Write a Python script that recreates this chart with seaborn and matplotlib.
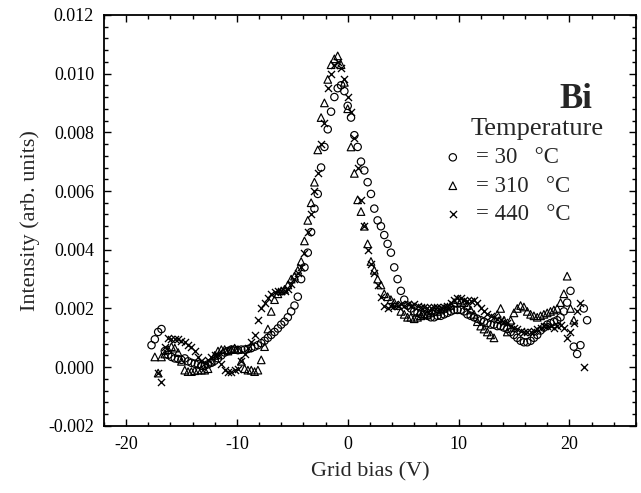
import numpy as np
import pandas as pd
import matplotlib
matplotlib.use("Agg")
import matplotlib.pyplot as plt
from matplotlib.ticker import AutoMinorLocator, MultipleLocator
import seaborn as sns

# ---------------- data (intensity in units of 1e-3 arb. units) ----------------
grid_bias = [
    -17.7, -17.4, -17.1, -16.8, -16.5, -16.2, -15.9, -15.6, -15.3, -15.0,
    -14.7, -14.4, -14.1, -13.8, -13.5, -13.2, -12.9, -12.6, -12.3, -12.0,
    -11.7, -11.4, -11.1, -10.8, -10.5, -10.2, -9.9, -9.6, -9.3, -9.0,
    -8.7, -8.4, -8.1, -7.8, -7.5, -7.2, -6.9, -6.6, -6.3, -6.0,
    -5.7, -5.4, -5.1, -4.8, -4.5, -4.2, -3.9, -3.6, -3.3, -3.0,
    -2.7, -2.4, -2.1, -1.8, -1.5, -1.2, -0.9, -0.6, -0.3, 0.0,
    0.3, 0.6, 0.9, 1.2, 1.5, 1.8, 2.1, 2.4, 2.7, 3.0,
    3.3, 3.6, 3.9, 4.2, 4.5, 4.8, 5.1, 5.4, 5.7, 6.0,
    6.3, 6.6, 6.9, 7.2, 7.5, 7.8, 8.1, 8.4, 8.7, 9.0,
    9.3, 9.6, 9.9, 10.2, 10.5, 10.8, 11.1, 11.4, 11.7, 12.0,
    12.3, 12.6, 12.9, 13.2, 13.5, 13.8, 14.1, 14.4, 14.7, 15.0,
    15.3, 15.6, 15.9, 16.2, 16.5, 16.8, 17.1, 17.4, 17.7, 18.0,
    18.3, 18.6, 18.9, 19.2, 19.5, 19.8, 20.1, 20.4, 20.7, 21.0,
    21.3, 21.6,
]

intensity_30C = [
    0.75, 0.95, 1.2, 1.3, 0.55, 0.42, 0.35, 0.3, 0.28, 0.25,
    0.3, 0.2, 0.15, 0.12, 0.1, 0.05, 0.05, 0.1, 0.15, 0.22,
    0.3, 0.4, 0.5, 0.55, 0.6, 0.6, 0.58, 0.6, 0.6, 0.62,
    0.65, 0.7, 0.75, 0.82, 0.9, 1.0, 1.1, 1.2, 1.32, 1.45,
    1.55, 1.7, 1.9, 2.1, 2.4, 3.0, 3.4, 3.9, 4.6, 5.4,
    5.9, 6.8, 7.5, 8.1, 8.7, 9.2, 9.5, 9.6, 9.4, 8.9,
    8.5, 7.9, 7.5, 7.0, 6.7, 6.3, 5.9, 5.4, 5.0, 4.8,
    4.5, 4.2, 3.9, 3.4, 3.0, 2.6, 2.3, 2.1, 2.0, 1.9,
    1.85, 1.8, 1.8, 1.75, 1.7, 1.7, 1.75, 1.75, 1.8, 1.85,
    1.9, 1.95, 1.95, 1.95, 1.9, 1.8, 1.75, 1.7, 1.65, 1.6,
    1.55, 1.5, 1.45, 1.45, 1.4, 1.4, 1.35, 1.3, 1.2, 1.1,
    1.0, 0.9, 0.85, 0.85, 0.9, 1.0, 1.1, 1.25, 1.35, 1.45,
    1.5, 1.55, 1.6, 1.7, 1.9, 2.2, 2.6, 0.7, 0.45, 0.75,
    2.0, 1.6,
]

intensity_310C = [
    None, 0.35, -0.2, 0.35, 0.45, 0.6, 0.7, 0.65, 0.5, 0.2,
    -0.1, -0.15, -0.15, -0.12, -0.1, -0.1, -0.1, -0.05, 0.2, 0.4,
    0.55, 0.6, 0.6, 0.55, 0.6, 0.65, 0.6, 0.2, -0.05, -0.1,
    -0.1, -0.15, -0.1, 0.25, 0.7, 1.3, 1.9, 2.3, 2.5, 2.6,
    2.65, 2.8, 3.0, 3.1, 3.3, 3.6, 4.3, 5.0, 5.6, 6.3,
    7.4, 8.5, 9.0, 9.8, 10.3, 10.5, 10.6, 10.3, 9.7, 8.8,
    7.5, 6.6, 5.7, 5.3, 4.8, 4.2, 3.6, 3.3, 3.0, 2.8,
    2.5, 2.4, 2.3, 2.2, 2.1, 1.9, 1.8, 1.7, 1.7, 1.65,
    1.7, 1.75, 1.8, 1.8, 1.85, 1.9, 1.9, 1.95, 2.0, 2.05,
    2.1, 2.2, 2.3, 2.25, 2.2, 2.1, 1.95, 1.8, 1.55, 1.4,
    1.3, 1.2, 1.1, 1.0, 1.8, 2.0, 1.6, 1.2, 1.6, 1.85,
    2.0, 2.1, 2.05, 1.9, 1.8, 1.75, 1.7, 1.75, 1.8, 1.85,
    1.9, 1.95, 2.0, 2.2, 2.5, 3.1, 2.0, 1.6, None, None,
    None, None,
]

intensity_440C = [
    None, None, -0.2, -0.5, 0.7, 1.0, 0.95, 0.95, 0.95, 0.9,
    0.85, 0.75, 0.7, 0.55, 0.35, 0.2, 0.15, 0.25, 0.35, 0.4,
    0.4, 0.1, -0.1, -0.15, -0.15, -0.1, -0.05, 0.2, 0.45, 0.65,
    0.85, 1.1, 1.6, 2.0, 2.2, 2.35, 2.5, 2.55, 2.6, 2.6,
    2.6, 2.65, 2.85, 3.0, 3.2, 3.4, 3.9, 4.6, 5.2, 6.0,
    6.6, 7.6, 8.3, 9.5, 10.0, 10.3, 10.4, 10.2, 9.8, 9.2,
    8.7, 7.8, 6.8, 5.7, 4.8, 4.0, 3.5, 3.2, 2.8, 2.4,
    2.1, 2.0, 2.1, 2.1, 2.1, 2.15, 2.1, 2.15, 2.1, 2.15,
    2.1, 2.05, 2.05, 2.0, 2.0, 2.05, 2.05, 2.0, 2.05, 2.1,
    2.2, 2.3, 2.35, 2.35, 2.3, 2.25, 2.25, 2.3, 2.2, 2.0,
    1.9, 1.8, 1.75, 1.7, 1.65, 1.6, 1.55, 1.5, 1.4, 1.35,
    1.3, 1.25, 1.2, 1.2, 1.2, 1.25, 1.3, 1.35, 1.4, 1.4,
    1.4, 1.35, 1.4, 1.45, 1.35, 1.0, 1.2, 1.5, 1.9, 2.2,
    0.0, None,
]

temperature_labels = ["= 30   \u00b0C", "= 310   \u00b0C", "= 440   \u00b0C"]
x_ticks = [-20, -10, 0, 10, 20]
y_ticks = [-0.002, 0.000, 0.002, 0.004, 0.006, 0.008, 0.010, 0.012]

# ---------------- figure ----------------
sns.set_style("ticks")
plt.rcParams["font.family"] = ["Liberation Serif", "DejaVu Serif"]
plt.rcParams["axes.unicode_minus"] = False

fig = plt.figure(figsize=(6.41, 4.93), dpi=100)
ax = fig.add_axes([0.162, 0.136, 0.830, 0.834])

def frame(values):
    df = pd.DataFrame({"bias": grid_bias,
                       "intensity": np.array(values, dtype=float) * 1e-3})
    return df.dropna()

sns.scatterplot(data=frame(intensity_30C), x="bias", y="intensity", ax=ax,
                marker="o", s=28, facecolors="none", edgecolor="black",
                linewidth=0.85, label=temperature_labels[0])
sns.scatterplot(data=frame(intensity_310C), x="bias", y="intensity", ax=ax,
                marker="^", s=30, facecolors="none", edgecolor="black",
                linewidth=0.85, label=temperature_labels[1])
sns.scatterplot(data=frame(intensity_440C), x="bias", y="intensity", ax=ax,
                marker="x", s=26, color="black",
                linewidth=0.95, label=temperature_labels[2])

ax.set_xlim(-22, 26)
ax.set_ylim(-0.002, 0.012)
ax.set_xticks(x_ticks)
ax.set_xticklabels([str(v) for v in x_ticks])
ax.set_yticks(y_ticks)
ax.set_yticklabels([f"{v:.3f}" for v in y_ticks])
ax.xaxis.set_minor_locator(MultipleLocator(2))
ax.yaxis.set_minor_locator(AutoMinorLocator(5))
ax.tick_params(which="both", direction="in", top=True, right=True,
               width=1.0, labelsize=13, colors="black")
ax.tick_params(which="major", length=5)
ax.tick_params(which="minor", length=3)
ax.tick_params(axis="x", pad=7)
ax.tick_params(axis="y", pad=7)
for sp in ax.spines.values():
    sp.set_linewidth(1.3)
    sp.set_color("black")

ax.set_xlabel("Grid bias (V)", fontsize=16, labelpad=7)
ax.set_ylabel("Intensity (arb. units)", fontsize=16, labelpad=6)

ax.text(0.887, 0.795, "Bi", transform=ax.transAxes, fontsize=25,
        fontweight="bold", ha="center", va="center")
ax.text(0.689, 0.722, "Temperature", transform=ax.transAxes, fontsize=19,
        ha="left", va="center")

leg = ax.legend(loc="upper left", bbox_to_anchor=(0.615, 0.70),
                frameon=False, fontsize=16.5, handletextpad=0.45,
                labelspacing=0.32, handlelength=1.1, borderaxespad=0.0)

fig.savefig("out.png", dpi=100)
